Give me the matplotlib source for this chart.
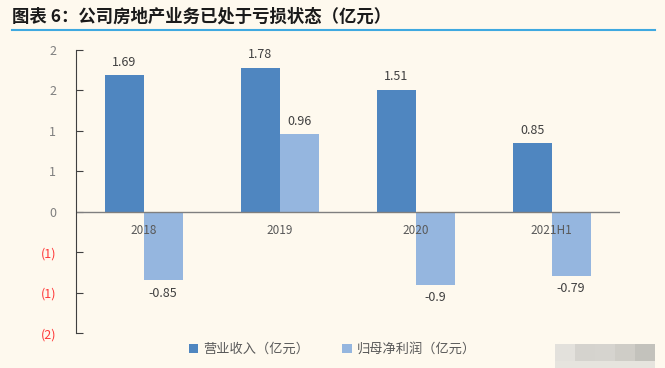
import numpy as np
import matplotlib.pyplot as plt
from matplotlib.patches import Rectangle

plt.rcParams['font.family'] = ['Noto Sans CJK SC', 'DejaVu Sans']

# ==============================
# Data
# ==============================
categories = ['2018', '2019', '2020', '2021H1']
revenue = [1.69, 1.78, 1.51, 0.85]
net_profit = [-0.85, 0.96, -0.9, -0.79]
revenue_labels = ['1.69', '1.78', '1.51', '0.85']
profit_labels = ['-0.85', '0.96', '-0.9', '-0.79']
y_ticks = [2.0, 1.5, 1.0, 0.5, 0.0, -0.5, -1.0, -1.5]
y_tick_labels = ['2', '2', '1', '1', '0', '(1)', '(1)', '(2)']

bg = '#fef9ee'
c_rev = '#4f86c0'
c_prof = '#95b6df'

fig = plt.figure(figsize=(6.65, 3.68), dpi=100, facecolor=bg)
ax = fig.add_axes([0.114, 0.095, 0.818, 0.769], facecolor=bg)

x = np.arange(len(categories))
w = 0.285
ax.bar(x - w / 2, revenue, w, color=c_rev, label='营业收入（亿元）')
ax.bar(x + w / 2, net_profit, w, color=c_prof, label='归母净利润（亿元）')

# value labels
for i in range(len(categories)):
    ax.text(x[i] - w / 2, revenue[i] + 0.08, revenue_labels[i], ha='center', va='bottom',
            fontsize=9, color='#404040')
    if net_profit[i] >= 0:
        ax.text(x[i] + w / 2, net_profit[i] + 0.08, profit_labels[i], ha='center', va='bottom',
                fontsize=9, color='#404040')
    else:
        ax.text(x[i] + w / 2, net_profit[i] - 0.08, profit_labels[i], ha='center', va='top',
                fontsize=9, color='#404040')
    ax.text(x[i], -0.15, categories[i], ha='center', va='top', fontsize=8.5, color='#595959')

ax.set_xlim(-0.5, 3.5)
ax.set_ylim(-1.5, 2.0)
ax.axhline(0, color='#7f7f7f', lw=1)

ax.set_yticks(y_ticks)
ax.set_yticklabels(y_tick_labels)
for t, v in zip(ax.get_yticklabels(), y_ticks):
    t.set_color('#ff3b3b' if v < 0 else '#7f7f7f')
    t.set_fontsize(9)
ax.tick_params(axis='y', direction='in', length=5, color='#404040', pad=14)
ax.set_xticks([])

for s in ['top', 'right', 'bottom']:
    ax.spines[s].set_visible(False)
ax.spines['left'].set_color('#404040')

# legend
leg = fig.legend(loc='lower center', bbox_to_anchor=(0.5, 0.0), ncol=2, frameon=False,
                 fontsize=9.5, handlelength=0.7, handleheight=0.7, columnspacing=2.5,
                 handletextpad=0.4, labelcolor='#595959')

# title
fig.text(0.018, 0.955, '图表 6：公司房地产业务已处于亏损状态（亿元）', fontsize=12.5,
         fontweight='bold', fontstyle='italic', color='#1a1a1a', va='center')
fig.add_artist(plt.Line2D([0.018, 0.985], [0.918, 0.918], color='#3fa9e0', lw=1.5))

# blurred watermark in the corner
blocks = [(0.835, '#e3e1dc'), (0.865, '#d5d3ce'), (0.895, '#d6d4cf'),
          (0.925, '#cfcdc7'), (0.955, '#c3c2bc')]
for bx, bc in blocks:
    fig.add_artist(Rectangle((bx, 0.02), 0.03, 0.045, transform=fig.transFigure,
                             color=bc, lw=0))
    fig.add_artist(Rectangle((bx, 0.0), 0.03, 0.02, transform=fig.transFigure,
                             color='#e6e4de', lw=0))

fig.savefig('out.png', dpi=100, facecolor=bg)
